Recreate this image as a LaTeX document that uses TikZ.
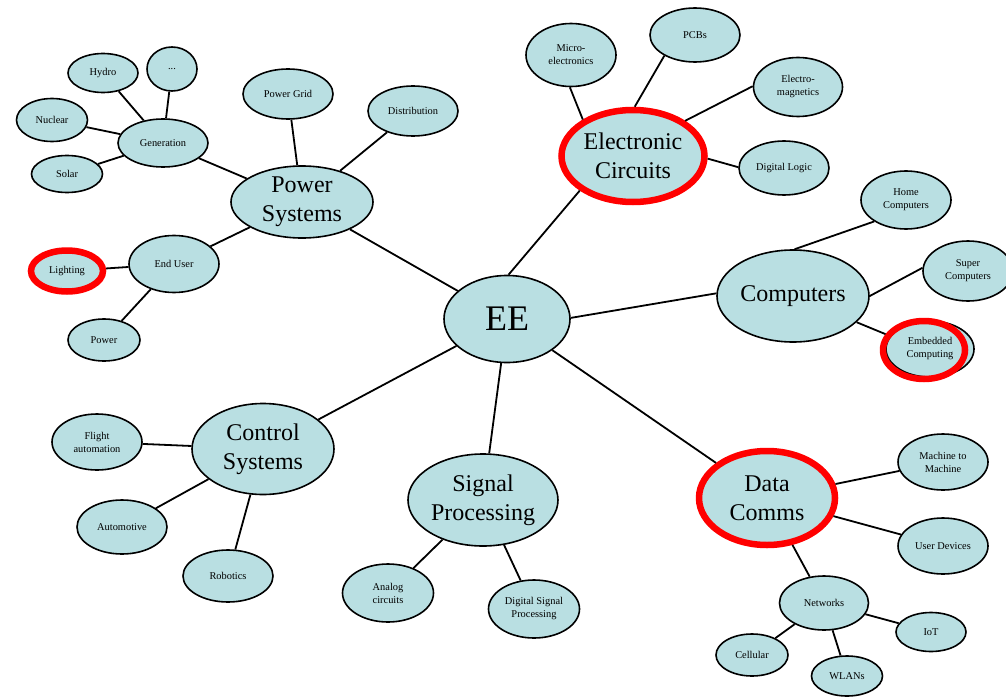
\documentclass[tikz,border=0pt]{standalone}
\usepackage{fontspec}
\setmainfont{Liberation Serif}
\usepackage{tikz}
\usetikzlibrary{shapes.geometric}
\definecolor{bubble}{HTML}{B9DFE2}
\definecolor{hotred}{HTML}{FF0000}

\begin{document}
\begin{tikzpicture}[x=1pt,y=-1pt,
  topic/.style={ellipse,draw=black,fill=bubble,line width=1.6pt,inner sep=0pt,align=center,font=\fontsize{10.4}{13}\selectfont},
  area/.style={topic,font=\fontsize{24}{29}\selectfont},
  hot/.style={draw=hotred,line width=6.5pt},
  link/.style={line width=1.8pt}]
\useasboundingbox (0,0) rectangle (1006,698);
% centre
\node[topic,font=\fontsize{36}{43}\selectfont,minimum width=126,minimum height=87] (ee) at (507,319) {EE};
% main areas
\node[area,minimum width=142,minimum height=72] (power) at (302,202) {Power\\Systems};
\node[area,hot,minimum width=143,minimum height=92] (elec) at (633,156) {Electronic\\Circuits};
\node[area,minimum width=152,minimum height=92] (comp) at (793,296) {Computers};
\node[area,hot,minimum width=136,minimum height=94] (data) at (767,498) {Data\\Comms};
\node[area,inner xsep=-10pt,minimum width=150,minimum height=92] (signal) at (483,500) {Signal\\Processing};
\node[area,minimum width=142,minimum height=91] (control) at (263,449) {Control\\Systems};
% power systems
\node[topic,minimum width=90,minimum height=48] (gen) at (163,143) {Generation};
\node[topic,minimum width=70,minimum height=39] (hydro) at (103,73) {Hydro};
\node[topic,minimum width=50,minimum height=44] (dots) at (172,69) {...};
\node[topic,minimum width=71,minimum height=43] (nuclear) at (52,120) {Nuclear};
\node[topic,minimum width=71,minimum height=37] (solar) at (67,174) {Solar};
\node[topic,minimum width=90,minimum height=50] (grid) at (288,94) {Power Grid};
\node[topic,minimum width=90,minimum height=50] (distrib) at (413,111) {Distribution};
\node[topic,minimum width=90,minimum height=57] (enduser) at (174,264) {End User};
\node[topic,hot,minimum width=72,minimum height=41] (lighting) at (67,271) {Lighting};
\node[topic,minimum width=72,minimum height=42] (pwr) at (104,340) {Power};
% electronic circuits
\node[topic,minimum width=90,minimum height=63] (micro) at (571,55) {Micro-\\electronics};
\node[topic,minimum width=90,minimum height=54] (pcb) at (695,35) {PCBs};
\node[topic,minimum width=89,minimum height=59] (emag) at (798,87) {Electro-\\magnetics};
\node[topic,minimum width=90,minimum height=54] (dlogic) at (784,168) {Digital Logic};
% computers
\node[topic,minimum width=90,minimum height=58] (home) at (906,200) {Home\\Computers};
\node[topic,minimum width=90,minimum height=60] (super) at (968,271) {Super\\Computers};
\node[topic,minimum width=88,minimum height=56] (embed) at (930,349) {Embedded\\Computing};
\node[ellipse,hot,minimum width=82,minimum height=58] (embring) at (924,350) {};
% data comms
\node[topic,minimum width=90,minimum height=56] (m2m) at (943,462) {Machine to\\Machine};
\node[topic,minimum width=90,minimum height=56] (userdev) at (943,546) {User Devices};
\node[topic,minimum width=89,minimum height=54] (net) at (824,603) {Networks};
\node[topic,minimum width=70,minimum height=39] (iot) at (931,632) {IoT};
\node[topic,minimum width=72,minimum height=42] (cell) at (752,655) {Cellular};
\node[topic,minimum width=71,minimum height=40] (wlan) at (847,676) {WLANs};
% control systems
\node[topic,minimum width=90,minimum height=56] (flight) at (97,442) {Flight\\automation};
\node[topic,minimum width=90,minimum height=54] (auto) at (122,527) {Automotive};
\node[topic,minimum width=90,minimum height=52] (robot) at (228,576) {Robotics};
% signal processing
\node[topic,minimum width=91,minimum height=58] (analog) at (388,593) {Analog\\circuits};
\node[topic,minimum width=91,minimum height=58] (dsp) at (534,609) {Digital Signal\\Processing};
% links
\foreach \a/\b in {ee/power,ee/data,ee/signal,ee/control,
  power/gen,power/grid,power/distrib,power/enduser,
  gen/hydro,gen/dots,gen/nuclear,gen/solar,enduser/lighting,enduser/pwr,
  comp/embring,data/m2m,data/userdev,data/net,net/iot,net/cell,net/wlan,
  control/flight,control/auto,control/robot,signal/analog,signal/dsp}
  \draw[link] (\a) -- (\b);
\draw[link] (ee.88) -- (elec.213);
\draw[link] (ee.1) -- (comp.178);
\draw[link] (elec.144) -- (micro.268);
\draw[link] (elec.88) -- (pcb.214);
\draw[link] (elec.34) -- (emag.179);
\draw[link] (elec.358) -- (dlogic.179);
\draw[link] (comp.88) -- (home.214);
\draw[link] (comp.0) -- (super.176);
\end{tikzpicture}
\end{document}
